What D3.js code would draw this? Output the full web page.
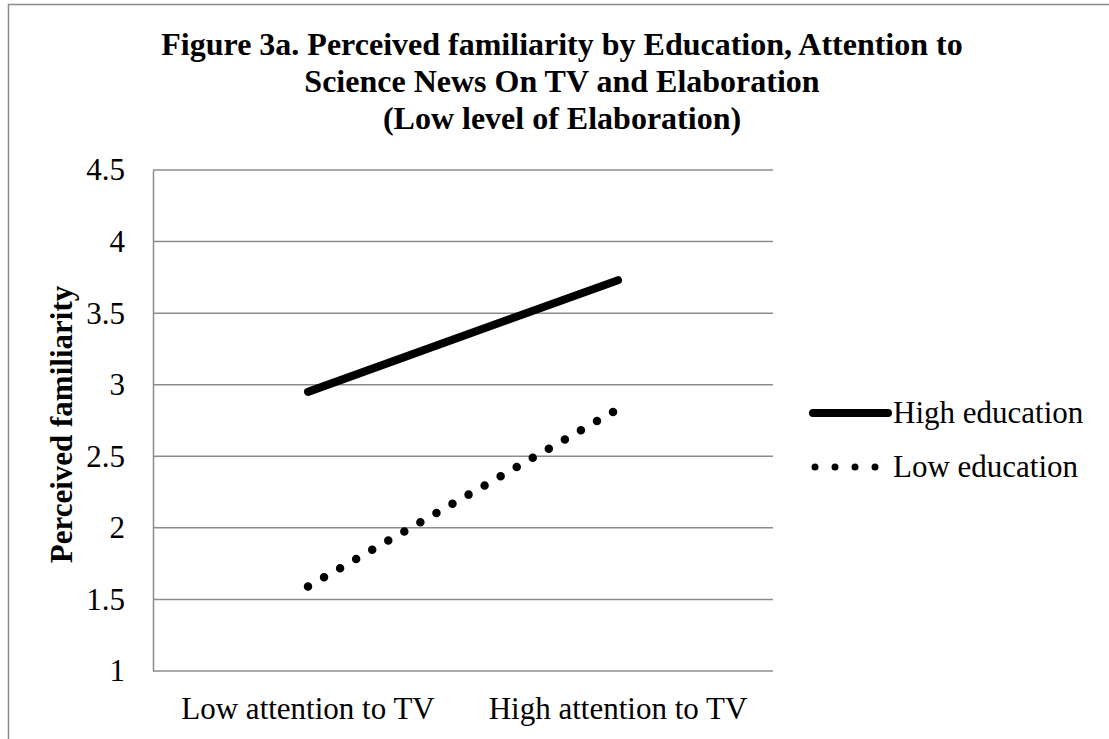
<!DOCTYPE html>
<html lang="en">
<head>
<meta charset="UTF-8">
<script src="https://d3js.org/d3.v7.min.js"></script>
<style>
  body { margin: 0; background: #fff; }
  text { font-family: "Liberation Serif", "Times New Roman", serif; fill: #000; }
</style>
</head>
<body>
<div id="chart"></div>
<script>
// data
const categories = ["Low attention to TV", "High attention to TV"];
const highEducation = [2.95, 3.73];
const lowEducation = [1.59, 2.83];
const seriesNames = ["High education", "Low education"];
const yTicks = [1, 1.5, 2, 2.5, 3, 3.5, 4, 4.5];
const titleLines = [
  "Figure 3a. Perceived familiarity by Education, Attention to",
  "Science News On TV and Elaboration",
  "(Low level of Elaboration)"
];

const W = 1109, H = 739;
const margin = { top: 170, left: 153, right: 336, bottom: 68 };
const width = W - margin.left - margin.right,
      height = H - margin.top - margin.bottom;
const fontSize = "31px";

const svg = d3.select("#chart").append("svg")
  .attr("width", W)
  .attr("height", H);

// outer frame (only top and left visible)
svg.append("path")
  .attr("d", `M8.5,${H + 5}V4.5H${W + 5}`)
  .attr("fill", "none")
  .attr("stroke", "#8c8c8c")
  .attr("stroke-width", 1.5);

// title
svg.append("g").selectAll("text")
  .data(titleLines)
  .join("text")
  .attr("x", 562)
  .attr("y", (d, i) => 55 + i * 37)
  .attr("text-anchor", "middle")
  .style("font-size", "32px")
  .style("font-weight", "bold")
  .text(d => d);

const g = svg.append("g")
  .attr("transform", `translate(${margin.left},${margin.top})`);

const x = d3.scaleBand().domain(categories).range([0, width]);
const y = d3.scaleLinear().domain([1, 4.5]).range([height, 0]);

// gridlines
g.append("g").selectAll("line")
  .data(yTicks)
  .join("line")
  .attr("x1", 0).attr("x2", width)
  .attr("y1", d => y(d)).attr("y2", d => y(d))
  .attr("stroke", "#8c8c8c")
  .attr("stroke-width", 1.5);

// y axis
const yAxis = g.append("g")
  .call(d3.axisLeft(y).tickValues(yTicks).tickSize(0).tickPadding(28)
    .tickFormat(d => d3.format("")(d)));
yAxis.select(".domain").attr("stroke", "#8c8c8c").attr("stroke-width", 1.5);
yAxis.selectAll("text")
  .style("font-family", "'Liberation Serif', serif")
  .style("font-size", fontSize);

// x axis
const xAxis = g.append("g")
  .attr("transform", `translate(0,${height})`)
  .call(d3.axisBottom(x).tickSize(0).tickPadding(26));
xAxis.select(".domain").remove();
xAxis.selectAll("text")
  .style("font-family", "'Liberation Serif', serif")
  .style("font-size", fontSize);

// y axis title
svg.append("text")
  .attr("transform", `translate(72,${margin.top + height / 2 + 4}) rotate(-90)`)
  .attr("text-anchor", "middle")
  .style("font-size", "31px")
  .style("font-weight", "bold")
  .text("Perceived familiarity");

const line = d3.line()
  .x((d, i) => x(categories[i]) + x.bandwidth() / 2)
  .y(d => y(d));

g.append("path")
  .datum(highEducation)
  .attr("d", line)
  .attr("fill", "none")
  .attr("stroke", "#000")
  .attr("stroke-width", 8)
  .attr("stroke-linecap", "round");

g.append("path")
  .datum(lowEducation)
  .attr("d", line)
  .attr("fill", "none")
  .attr("stroke", "#000")
  .attr("stroke-width", 8.5)
  .attr("stroke-linecap", "round")
  .attr("stroke-dasharray", "0,18.5");

// legend
const legend = svg.append("g").attr("transform", "translate(813,413)");
legend.append("line")
  .attr("x1", 0).attr("x2", 75).attr("y1", 0).attr("y2", 0)
  .attr("stroke", "#000").attr("stroke-width", 8).attr("stroke-linecap", "round");
legend.append("line")
  .attr("x1", 2).attr("x2", 63).attr("y1", 54).attr("y2", 54)
  .attr("stroke", "#000").attr("stroke-width", 7).attr("stroke-linecap", "round")
  .attr("stroke-dasharray", "0,20");
legend.selectAll("text.lbl")
  .data(seriesNames)
  .join("text")
  .attr("class", "lbl")
  .attr("x", 80)
  .attr("y", (d, i) => 10 + i * 54)
  .style("font-size", fontSize)
  .text(d => d);
</script>
</body>
</html>
